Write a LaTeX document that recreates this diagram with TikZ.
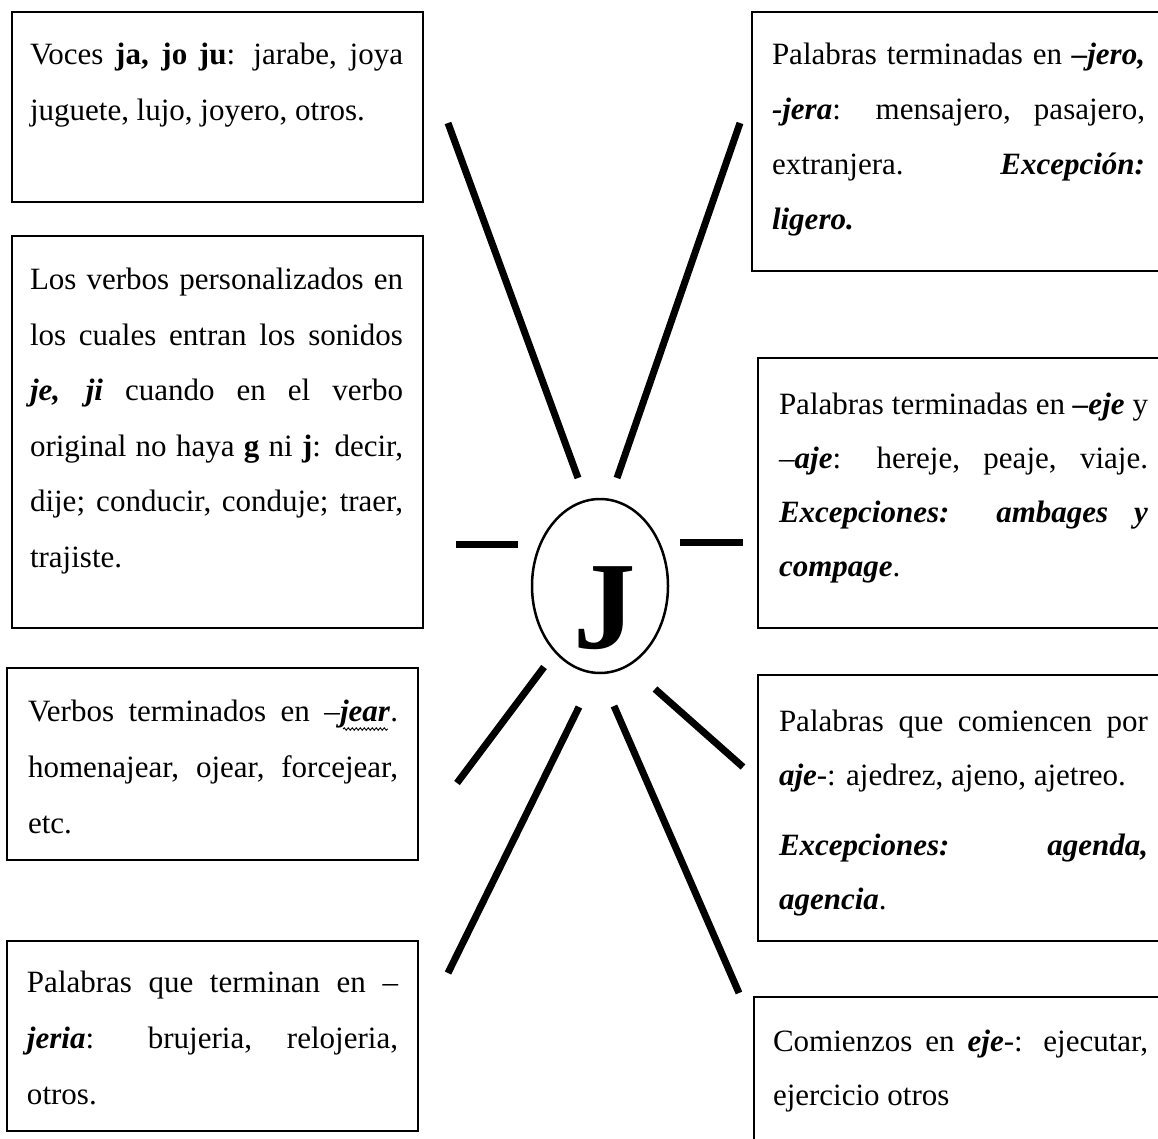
\documentclass[tikz,border=0pt]{standalone}
\usepackage{fontspec}
\setmainfont{Liberation Serif}
\usetikzlibrary{shapes.geometric,decorations.pathmorphing}
\newcommand\jl[2]{\makebox[#1][s]{#2}}
\newcommand\bi[1]{\textbf{\textit{#1}}}
\begin{document}
\begin{tikzpicture}[x=1pt,y=-1pt,
  box/.style={draw=black, line width=1.8pt, rectangle, anchor=north west, inner sep=0pt, outer sep=0pt},
  txt/.style={anchor=base west, inner sep=0pt, outer sep=0pt, font=\fontsize{31}{55.5}\selectfont},
  ray/.style={line width=7pt, black},
  wave/.style={decorate, decoration={snake, amplitude=1.2pt, segment length=4pt}, line width=0.9pt}]
\useasboundingbox (0,0) rectangle (1158,1139);
\fill[white] (0,0) rectangle (1158,1139);

% boxes
\node[box, minimum width=411pt, minimum height=190pt] (b1) at (12,12) {};
\node[box, minimum width=411pt, minimum height=392pt] (b2) at (12,236) {};
\node[box, minimum width=411pt, minimum height=192pt] (b3) at (7,668) {};
\node[box, minimum width=411pt, minimum height=190pt] (b4) at (7,941) {};
\node[box, minimum width=423pt, minimum height=259pt] (b5) at (752,12) {};
\node[box, minimum width=417pt, minimum height=270pt] (b6) at (758,358) {};
\node[box, minimum width=417pt, minimum height=266pt] (b7) at (758,675) {};
\node[box, minimum width=421pt, minimum height=170pt] (b8) at (754,997) {};

% texts
\node[txt] (t1) at (30,65) {\parbox[t]{373pt}{\fontsize{31}{56}\selectfont
\jl{373pt}{Voces \textbf{ja, jo ju}: jarabe, joya}\\
juguete, lujo, joyero, otros.}};

\node[txt] (t2) at (30,290) {\parbox[t]{373pt}{\fontsize{31}{55.4}\selectfont
\jl{373pt}{Los verbos personalizados en}\\
\jl{373pt}{los cuales entran los sonidos}\\
\jl{373pt}{\bi{je, ji} cuando en el verbo}\\
\jl{373pt}{original no haya \textbf{g} ni \textbf{j}: decir,}\\
\jl{373pt}{dije; conducir, conduje; traer,}\\
trajiste.}};

\node[txt] (t3) at (28,721) {\parbox[t]{370pt}{\fontsize{31}{56}\selectfont
\jl{370pt}{Verbos terminados en –\bi{jear}.}\\
\jl{370pt}{homenajear, ojear, forcejear,}\\
etc.}};
\coordinate (w1) at (343,729);
\coordinate (w2) at (388,729);
\draw[wave] (w1) -- (w2);

\node[txt] (t4) at (27,992) {\parbox[t]{371pt}{\fontsize{31}{56}\selectfont
\jl{371pt}{Palabras que terminan en –}\\
\jl{371pt}{\bi{jeria}: brujeria, relojeria,}\\
otros.}};

\node[txt] (t5) at (772,65) {\parbox[t]{373pt}{\fontsize{31}{54.7}\selectfont
\jl{373pt}{Palabras terminadas en \bi{–jero,}}\\
\jl{373pt}{\bi{-jera}: mensajero, pasajero,}\\
\jl{373pt}{extranjera. \bi{Excepción:}}\\
\bi{ligero.}}};

\node[txt] (t6) at (779,414) {\parbox[t]{369pt}{\fontsize{31}{54.3}\selectfont
\jl{369pt}{Palabras terminadas en \bi{–eje} y}\\
\jl{369pt}{–\bi{aje}: hereje, peaje, viaje.}\\
\jl{369pt}{\bi{Excepciones:} \bi{ambages} \bi{y}}\\
\bi{compage}.}};

\node[txt] (t7) at (779,731) {\parbox[t]{369pt}{\fontsize{31}{54}\selectfont
\jl{369pt}{Palabras que comiencen por}\\
\bi{aje}-: ajedrez, ajeno, ajetreo.\\[16pt]
\jl{369pt}{\bi{Excepciones:} \bi{agenda,}}\\
\bi{agencia}.}};

\node[txt] (t8) at (773,1051) {\parbox[t]{375pt}{\fontsize{31}{54}\selectfont
\jl{375pt}{Comienzos en \bi{eje}-: ejecutar,}\\
ejercicio otros}};

% centre
\node[ellipse, draw=black, line width=2.5pt, minimum width=136pt, minimum height=174pt, inner sep=0pt] (c) at (600,586) {};
\node[inner sep=0pt] (J) at (605,608) {\fontsize{125}{125}\selectfont\bfseries J};

% rays
\coordinate (r1a) at (448,123); \coordinate (r1b) at (578,478);
\coordinate (r2a) at (740,123); \coordinate (r2b) at (617,478);
\coordinate (r3a) at (456,544); \coordinate (r3b) at (518,544);
\coordinate (r4a) at (680,542); \coordinate (r4b) at (743,542);
\coordinate (r5a) at (544,667); \coordinate (r5b) at (457,783);
\coordinate (r6a) at (579,707); \coordinate (r6b) at (448,973);
\coordinate (r7a) at (614,706); \coordinate (r7b) at (739,993);
\coordinate (r8a) at (655,689); \coordinate (r8b) at (743,767);
\draw[ray] (r1a) -- (r1b);
\draw[ray] (r2a) -- (r2b);
\draw[ray] (r3a) -- (r3b);
\draw[ray] (r4a) -- (r4b);
\draw[ray] (r5a) -- (r5b);
\draw[ray] (r6a) -- (r6b);
\draw[ray] (r7a) -- (r7b);
\draw[ray] (r8a) -- (r8b);
\end{tikzpicture}
\end{document}
